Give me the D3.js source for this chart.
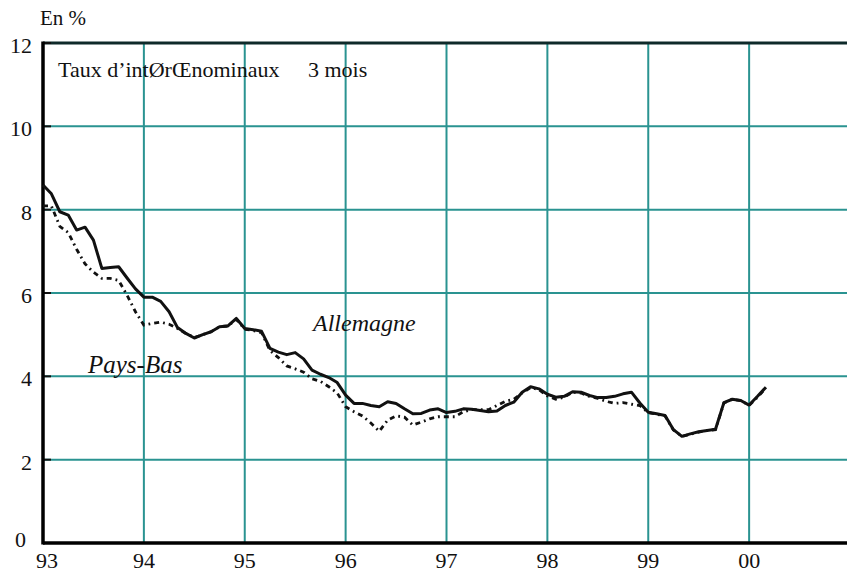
<!DOCTYPE html>
<html><head><meta charset="utf-8">
<script src="https://cdn.jsdelivr.net/npm/d3@7"></script>
<style>body{margin:0;background:#fff}svg{display:block}svg text{font-family:"Times New Roman",Times,Tinos,"Liberation Serif","DejaVu Serif",serif}</style>
</head><body>
<script>
// Data: monthly 3-month nominal interest rates, Jan 1993 - Mar 2000
const startYear = 1993;
const allemagne = [8.59,8.38,7.95,7.87,7.51,7.58,7.27,6.59,6.61,6.63,6.36,6.1,5.9,5.9,5.8,5.55,5.17,5.03,4.92,5.0,5.07,5.19,5.21,5.39,5.15,5.12,5.08,4.67,4.58,4.52,4.57,4.42,4.15,4.05,3.97,3.85,3.55,3.35,3.35,3.3,3.27,3.39,3.35,3.22,3.1,3.11,3.19,3.22,3.13,3.16,3.22,3.21,3.18,3.15,3.17,3.3,3.38,3.62,3.75,3.7,3.57,3.5,3.52,3.63,3.62,3.54,3.49,3.49,3.52,3.58,3.62,3.36,3.14,3.1,3.06,2.72,2.56,2.62,2.67,2.7,2.73,3.37,3.45,3.42,3.31,3.52,3.74];
const paysBas = [8.09,8.09,7.6,7.45,7.05,6.7,6.5,6.35,6.35,6.3,5.95,5.55,5.23,5.27,5.3,5.25,5.15,5.03,4.93,5.0,5.07,5.19,5.21,5.37,5.13,5.1,5.05,4.62,4.45,4.25,4.18,4.1,3.94,3.88,3.75,3.6,3.27,3.15,3.05,2.88,2.68,2.95,3.05,3.02,2.83,2.9,2.98,3.03,3.03,3.03,3.15,3.2,3.2,3.2,3.3,3.4,3.45,3.6,3.73,3.68,3.53,3.45,3.5,3.62,3.6,3.52,3.47,3.4,3.35,3.37,3.33,3.3,3.13,3.09,3.05,2.71,2.56,2.61,2.66,2.7,2.72,3.36,3.45,3.42,3.3,3.5,3.72];
const yTicks = [0,2,4,6,8,10,12];
const xTickYears = [1993,1994,1995,1996,1997,1998,1999,2000];
const xTickLabels = ["93","94","95","96","97","98","99","00"];
const titleMain = "Taux d\u2019int\u00D8r\u0152nominaux";
const titleSub = "3 mois";
const unitLabel = "En %";
const seriesLabels = ["Allemagne", "Pays-Bas"];

const W = 847, H = 573;
const svg = d3.select("body").append("svg").attr("width", W).attr("height", H);
const x = d3.scaleLinear().domain([1993, 2001]).range([43, 850]);
const y = d3.scaleLinear().domain([0, 12]).range([543, 43]);
const teal = "#2a9391";

// grid
svg.append("g").selectAll("line").data(yTicks.filter(d => d > 0 && d < 12)).join("line")
  .attr("x1", x(1993)).attr("x2", W).attr("y1", d => y(d)).attr("y2", d => y(d))
  .attr("stroke", teal).attr("stroke-width", 2);
svg.append("g").selectAll("line").data(xTickYears.slice(1).concat([2001])).join("line")
  .attr("x1", d => x(d)).attr("x2", d => x(d)).attr("y1", y(12)).attr("y2", y(0))
  .attr("stroke", teal).attr("stroke-width", 2);
// top border
svg.append("line").attr("x1", x(1993)).attr("x2", W).attr("y1", y(12)).attr("y2", y(12))
  .attr("stroke", "#0e2a2a").attr("stroke-width", 3);
// y ticks (short, inside)
svg.append("g").selectAll("line").data(yTicks).join("line")
  .attr("x1", x(1993)).attr("x2", x(1993) + 8).attr("y1", d => y(d)).attr("y2", d => y(d))
  .attr("stroke", "#111").attr("stroke-width", 2);
// axes
svg.append("line").attr("x1", x(1993)).attr("x2", x(1993)).attr("y1", y(12) - 1.5).attr("y2", y(0) + 1.5)
  .attr("stroke", "#000").attr("stroke-width", 3.5);
svg.append("line").attr("x1", x(1993)).attr("x2", W).attr("y1", y(0)).attr("y2", y(0))
  .attr("stroke", "#000").attr("stroke-width", 3.5);

// tick labels
svg.append("g").selectAll("text").data(yTicks).join("text")
  .attr("x", d => d === 0 ? 26 : 32).attr("y", d => y(d) + (d === 0 ? 4 : 10))
  .attr("text-anchor", "end").attr("font-size", 22).attr("fill", "#111").text(d => d);
svg.append("g").selectAll("text").data(xTickYears).join("text")
  .attr("x", d => x(d) + (d === 1993 ? 4 : 0)).attr("y", 568)
  .attr("text-anchor", "middle").attr("font-size", 22).attr("fill", "#111").text((d, i) => xTickLabels[i]);

svg.append("text").attr("x", 40).attr("y", 25).attr("font-size", 21).attr("fill", "#111").text(unitLabel);

// title
svg.append("text").attr("x", 58).attr("y", 77).attr("font-size", 22).attr("fill", "#111").text(titleMain);
svg.append("text").attr("x", 308).attr("y", 77).attr("font-size", 22).attr("fill", "#111").text(titleSub);

// lines
const line = d3.line().x((d, i) => x(startYear + i / 12)).y(d => y(d));
svg.append("path").datum(paysBas).attr("d", line).attr("fill", "none")
  .attr("stroke", "#111").attr("stroke-width", 2.8).attr("stroke-dasharray", "5,4,1.8,4");
svg.append("path").datum(allemagne).attr("d", line).attr("fill", "none")
  .attr("stroke", "#111").attr("stroke-width", 3).attr("stroke-linejoin", "round");

svg.append("text").attr("x", 313).attr("y", 331).attr("font-size", 24).attr("font-style", "italic").attr("fill", "#111").text(seriesLabels[0]);
svg.append("text").attr("x", 88).attr("y", 373).attr("font-size", 25).attr("font-style", "italic").attr("fill", "#111").text(seriesLabels[1]);
</script>
</body></html>
